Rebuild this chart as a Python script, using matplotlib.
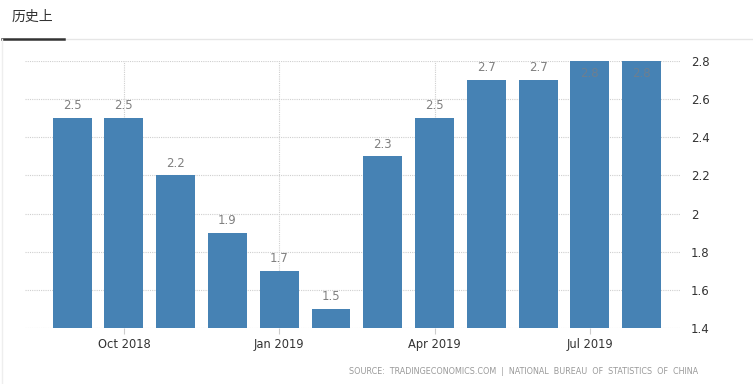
import matplotlib
matplotlib.use("Agg")
import matplotlib.pyplot as plt
from matplotlib.lines import Line2D

months = ["Sep 2018", "Oct 2018", "Nov 2018", "Dec 2018", "Jan 2019", "Feb 2019",
          "Mar 2019", "Apr 2019", "May 2019", "Jun 2019", "Jul 2019", "Aug 2019"]
values = [2.5, 2.5, 2.2, 1.9, 1.7, 1.5, 2.3, 2.5, 2.7, 2.7, 2.8, 2.8]
xtick_labels = ["Oct 2018", "Jan 2019", "Apr 2019", "Jul 2019"]
yticks = [1.4, 1.6, 1.8, 2.0, 2.2, 2.4, 2.6, 2.8]
ytick_labels = ["1.4", "1.6", "1.8", "2", "2.2", "2.4", "2.6", "2.8"]
title = "历史上"
source = "SOURCE:  TRADINGECONOMICS.COM  |  NATIONAL  BUREAU  OF  STATISTICS  OF  CHINA"

plt.rcParams['font.family'] = ['Noto Sans CJK SC', 'DejaVu Sans']

W, H = 753, 384
fig = plt.figure(figsize=(W / 100, H / 100), dpi=100)
ax = fig.add_axes([25 / W, 1 - 328 / H, (680 - 25) / W, (328 - 61) / H])

x = list(range(len(values)))
ax.bar(x, [v - 1.4 for v in values], bottom=1.4, width=0.75, color="#4682B4", zorder=3)

ax.set_ylim(1.4, 2.8)
ax.set_xlim(-0.91, 11.74)

for xi, v in zip(x, values):
    if v >= 2.79:
        ax.text(xi, v - 0.03, f"{v:g}", ha="center", va="top", fontsize=8.5,
                color="#6d7f90", family="DejaVu Sans", zorder=4)
    else:
        ax.text(xi, v + 0.03, f"{v:g}", ha="center", va="bottom", fontsize=8.5,
                color="#808080", family="DejaVu Sans", zorder=4)

ax.yaxis.tick_right()
ax.set_yticks(yticks)
ax.set_yticklabels(ytick_labels, fontsize=8.5, color="#333333", family="DejaVu Sans")
ax.tick_params(axis="y", length=0, pad=8)

tick_pos = [months.index(m) for m in xtick_labels]
ax.set_xticks(tick_pos)
ax.set_xticklabels(xtick_labels, fontsize=8.3, color="#333333", family="DejaVu Sans")
ax.tick_params(axis="x", length=4, color="#cccccc", pad=3)

ax.grid(True, axis="both", color="#cfcfcf", linestyle=(0, (1, 1)), linewidth=0.8, zorder=0)
for s in ax.spines.values():
    s.set_visible(False)

fig.text(12 / W, 1 - 17 / H, title, fontsize=10, color="#333333", va="center", ha="left")
fig.add_artist(Line2D([64 / W, 1], [1 - 39 / H] * 2, color="#e6e6e6", linewidth=1, transform=fig.transFigure))
fig.add_artist(Line2D([2 / W, 64 / W], [1 - 39 / H] * 2, color="#333333", linewidth=1.8, transform=fig.transFigure))
fig.add_artist(Line2D([2 / W, 2 / W], [1 - 39 / H, 0], color="#eeeeee", linewidth=1, transform=fig.transFigure))

fig.text(698 / W, 1 - 371 / H, source, fontsize=5.75, color="#999999", va="center", ha="right",
         family="DejaVu Sans")

fig.savefig("out.png", dpi=100)
